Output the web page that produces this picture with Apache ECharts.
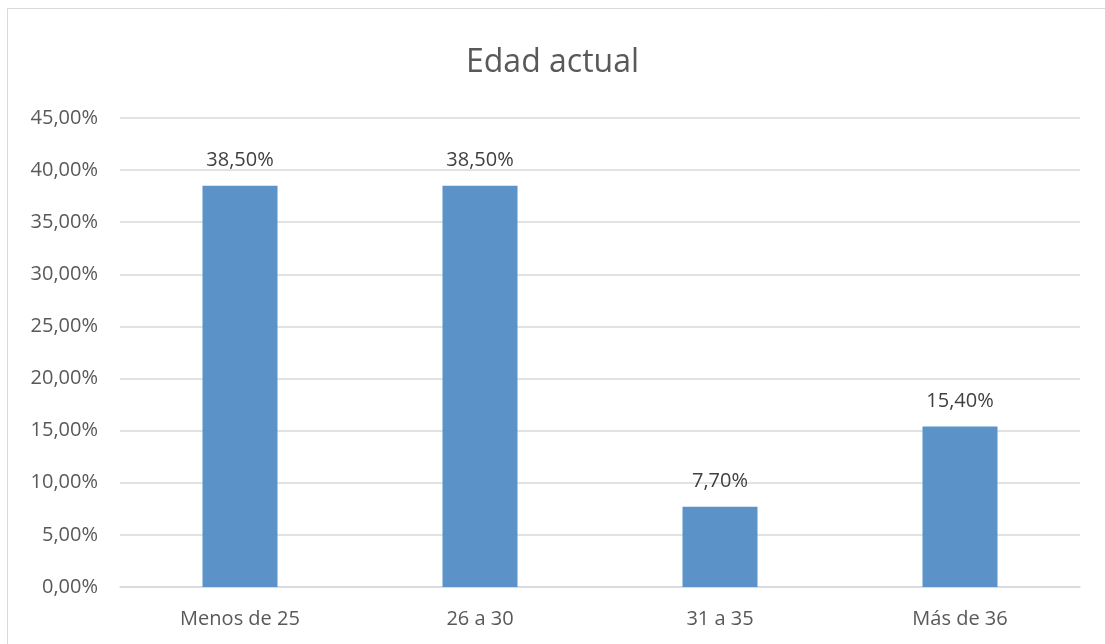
<!DOCTYPE html>
<html><head><meta charset="utf-8">
<script src="https://cdn.jsdelivr.net/npm/echarts@6/dist/echarts.min.js"></script>
<style>html,body{margin:0;padding:0;background:#fff;}#c{width:1105px;height:644px;}</style>
</head><body><div id="c"></div>
<script>
const categories = ["Menos de 25", "26 a 30", "31 a 35", "Más de 36"];
const values = [38.5, 38.5, 7.7, 15.4];
const yTicks = [0, 5, 10, 15, 20, 25, 30, 35, 40, 45];
const title = "Edad actual";

function fmt(v){ return v.toFixed(2).replace('.', ',') + '%'; }

const chart = echarts.init(document.getElementById('c'), null, {renderer:'canvas'});
chart.setOption({
  animation:false,
  textStyle:{fontFamily:'Open Sans'},
  graphic:[{type:'rect', shape:{x:7.5,y:8.5,width:1300,height:900}, style:{fill:'none',stroke:'#d9d9d9',lineWidth:1}, silent:true, z:-1}],
  title:{text:title, left:'center', top:42, textStyle:{fontFamily:'Open Sans', fontSize:32, fontWeight:'normal', color:'#595959'}},
  grid:{left:120, right:25, top:118, bottom:57, containLabel:false},
  xAxis:{type:'category', data:categories,
    axisLine:{lineStyle:{color:'#d9d9d9', width:1.5}}, axisTick:{show:false},
    axisLabel:{color:'#595959', fontSize:20, margin:22}},
  yAxis:{type:'value', min:yTicks[0], max:yTicks[yTicks.length-1], interval:5,
    axisLine:{show:false}, axisTick:{show:false},
    splitLine:{lineStyle:{color:'#d9d9d9', width:1.5}},
    axisLabel:{color:'#595959', fontSize:20, margin:22, formatter:v=>fmt(v)}},
  series:[{type:'bar', data:values, barWidth:75,
    itemStyle:{color:'#5b93c8'},
    label:{show:true, position:'top', distance:15, color:'#404040', fontSize:20, formatter:p=>fmt(p.value)}}]
});
</script></body></html>
